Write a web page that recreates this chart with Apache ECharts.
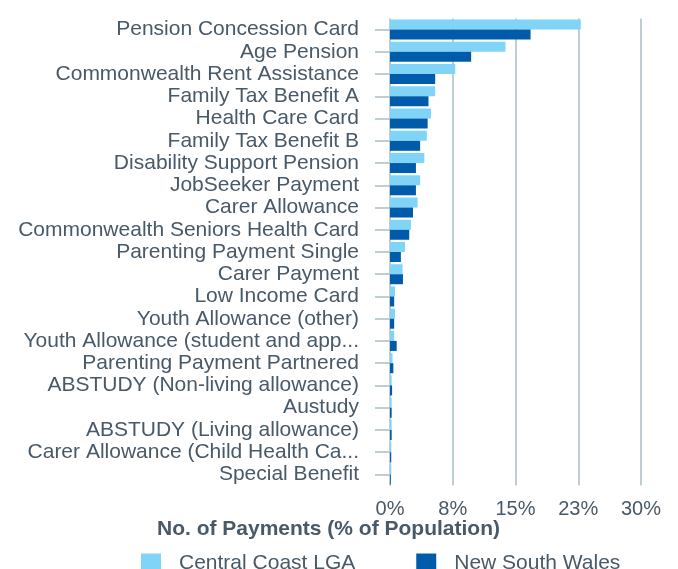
<!DOCTYPE html>
<html>
<head>
<meta charset="utf-8">
<script src="https://cdn.jsdelivr.net/npm/echarts@6/dist/echarts.min.js"></script>
<style>
html,body{margin:0;padding:0;background:#fff;}
#chart{width:678px;height:569px;}
</style>
</head>
<body>
<div id="chart"></div>
<script>
var categories = ['Pension Concession Card','Age Pension','Commonwealth Rent Assistance','Family Tax Benefit A','Health Care Card','Family Tax Benefit B','Disability Support Pension','JobSeeker Payment','Carer Allowance','Commonwealth Seniors Health Card','Parenting Payment Single','Carer Payment','Low Income Card','Youth Allowance (other)','Youth Allowance (student and app...','Parenting Payment Partnered','ABSTUDY (Non-living allowance)','Austudy','ABSTUDY (Living allowance)','Carer Allowance (Child Health Ca...','Special Benefit'];
var centralCoast = [22.8,13.8,7.8,5.4,4.9,4.4,4.1,3.6,3.3,2.5,1.8,1.5,0.6,0.6,0.5,0.3,0.2,0.2,0.2,0.15,0.15];
var newSouthWales = [16.8,9.7,5.4,4.6,4.5,3.6,3.1,3.1,2.75,2.3,1.3,1.55,0.5,0.5,0.8,0.4,0.25,0.2,0.2,0.15,0.1];
var tickLabels = ['0%','8%','15%','23%','30%'];
var seriesNames = ['Central Coast LGA','New South Wales'];
var axisTitle = 'No. of Payments (% of Population)';

var FONT = "'Liberation Sans', Arial, sans-serif";
var TEXT = '#485967';
var GRID = '#a9bfc4';

var chart = echarts.init(document.getElementById('chart'));
chart.setOption({
  animation: false,
  textStyle: {fontFamily: FONT},
  title: {
    text: axisTitle,
    left: 157, top: 519, padding: 0,
    textStyle: {fontFamily: FONT, fontSize: 21, fontWeight: 'bold', color: TEXT}
  },
  legend: {
    left: 141, top: 553, padding: 0,
    icon: 'rect', itemWidth: 20, itemHeight: 20, itemGap: 61,
    textStyle: {fontFamily: FONT, fontSize: 21, color: TEXT, padding: [0,0,0,13]},
    data: seriesNames
  },
  grid: {left: 390, right: 37, top: 18.5, bottom: 83.5, containLabel: false},
  xAxis: {
    type: 'value', min: 0, max: 30, interval: 7.5,
    axisLine: {show: false}, axisTick: {show: false},
    splitLine: {show: true, lineStyle: {color: GRID, width: 1.5}},
    axisLabel: {
      margin: 14, fontFamily: FONT, fontSize: 20, color: TEXT,
      formatter: function (v, i) { return tickLabels[i]; }
    }
  },
  yAxis: {
    type: 'category', inverse: true, data: categories,
    axisLine: {show: false},
    axisTick: {show: true, alignWithLabel: true, length: 15, lineStyle: {color: GRID, width: 1.5}},
    axisLabel: {margin: 31, fontFamily: FONT, fontSize: 21, color: TEXT, interval: 0, padding: [3,0,0,0]}
  },
  series: [
    {name: seriesNames[0], type: 'bar', data: centralCoast, barWidth: 10, barGap: '0%', itemStyle: {color: '#7fd4f7'}},
    {name: seriesNames[1], type: 'bar', data: newSouthWales, barWidth: 10, barGap: '0%', itemStyle: {color: '#005cab'}}
  ]
});
</script>
</body>
</html>
